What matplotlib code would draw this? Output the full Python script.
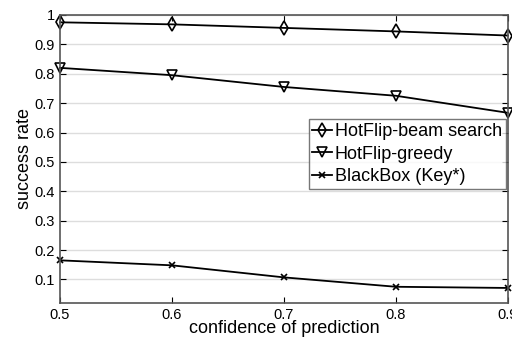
import numpy as np
import matplotlib.pyplot as plt
from matplotlib.ticker import FuncFormatter

plt.rcParams['font.family'] = ['Liberation Sans', 'DejaVu Sans']

conf = [0.5, 0.6, 0.7, 0.8, 0.9]
beam = [0.975, 0.968, 0.956, 0.944, 0.930]
greedy = [0.820, 0.795, 0.755, 0.725, 0.667]
blackbox = [0.165, 0.148, 0.107, 0.075, 0.071]

fig = plt.figure(figsize=(5.12, 3.4), dpi=100)
ax = fig.add_axes([0.117, 0.109, 0.875, 0.847])

ax.plot(conf, beam, color='black', lw=1.3, marker='d', ms=7, mfc='none', mew=1.2,
        label='HotFlip-beam search', clip_on=False)
ax.plot(conf, greedy, color='black', lw=1.3, marker='v', ms=6.5, mfc='none', mew=1.2,
        label='HotFlip-greedy', clip_on=False)
ax.plot(conf, blackbox, color='black', lw=1.3, marker='x', ms=5, mew=1.2,
        label='BlackBox (Key*)', clip_on=False)

ax.set_xlim(0.5, 0.9)
ax.set_ylim(0.02, 1.0)
ax.set_xticks(conf)
ax.set_yticks(np.arange(1, 11) / 10)
ax.yaxis.set_major_formatter(FuncFormatter(lambda v, p: '%g' % v))
ax.yaxis.grid(True, color='#dddddd', lw=1)
ax.set_axisbelow(True)
ax.tick_params(direction='in', top=True, right=True, labelsize=10.5, length=4, width=0.8)
for s in ax.spines.values():
    s.set_color('#555555')
    s.set_linewidth(1.2)

ax.set_xlabel('confidence of prediction', fontsize=13, labelpad=-1)
ax.set_ylabel('success rate', fontsize=13, labelpad=1)

leg = ax.legend(loc='upper right', bbox_to_anchor=(0.995, 0.637), fontsize=13,
                frameon=True, fancybox=False, borderpad=0.2, labelspacing=0.3,
                handlelength=1.1, handletextpad=0.15, borderaxespad=0)
leg.get_frame().set_edgecolor('#555555')
leg.get_frame().set_linewidth(1.0)

fig.savefig('out.png', dpi=100)
